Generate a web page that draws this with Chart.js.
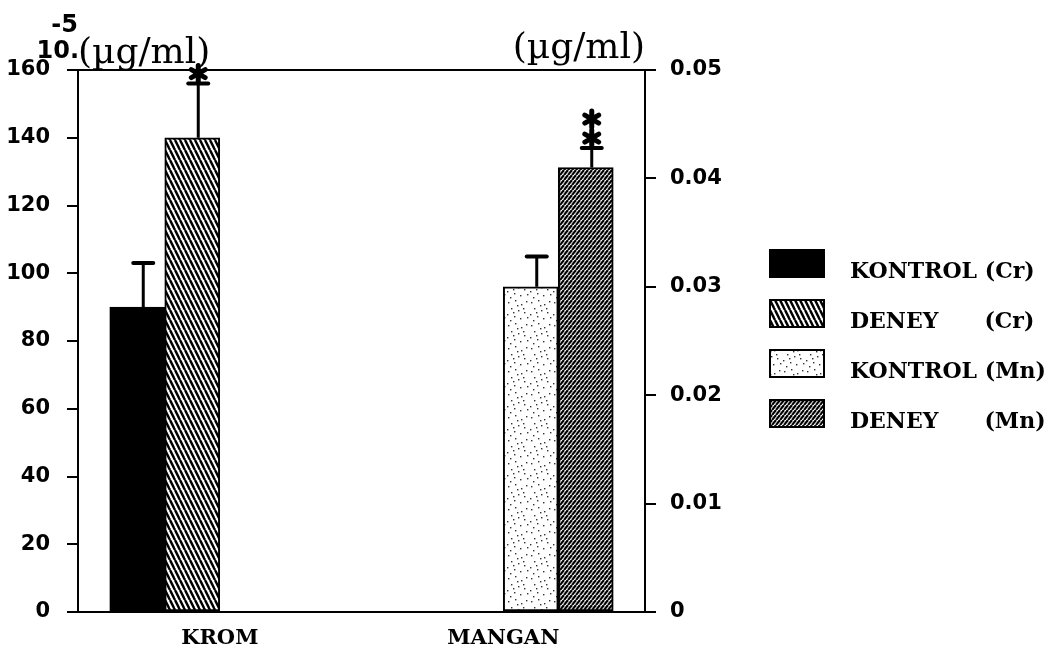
<!DOCTYPE html>
<html>
<head>
<meta charset="utf-8">
<script src="https://cdn.jsdelivr.net/npm/chart.js@4.4.0/dist/chart.umd.min.js"></script>
<style>
  html, body { margin: 0; padding: 0; background: #fff; }
  canvas { display: block; }
</style>
</head>
<body>
<canvas id="chart" width="1051" height="654"></canvas>
<script>
// ── DATA ───────────────────────────────────────────────────────
const CATEGORIES = ['KROM', 'MANGAN'];
const SERIES_LABELS = ['KONTROL (Cr)', 'DENEY      (Cr)', 'KONTROL (Mn)', 'DENEY      (Mn)'];

// Cr on the left axis (x10^-5 µg/ml), Mn on the right axis (µg/ml)
const KONTROL_CR = [90, null];
const DENEY_CR   = [140, null];
const KONTROL_MN = [null, 0.030];
const DENEY_MN   = [null, 0.041];

const ERR_KONTROL_CR = [13, null];
const ERR_DENEY_CR   = [16, null];
const ERR_KONTROL_MN = [null, 0.0028];
const ERR_DENEY_MN   = [null, 0.0018];

// number of significance stars above each series
const STARS = [0, 1, 0, 2];

const LEFT_TICKS  = [0, 20, 40, 60, 80, 100, 120, 140, 160];
const RIGHT_TICKS = [0, 0.01, 0.02, 0.03, 0.04, 0.05];

// ── FILL PATTERNS ──────────────────────────────────────────────
function makeTile(w, h, draw) {
  const c = document.createElement('canvas');
  c.width = w; c.height = h;
  const t = c.getContext('2d');
  t.fillStyle = '#fff';
  t.fillRect(0, 0, w, h);
  draw(t, w, h);
  return t.createPattern(c, 'repeat');
}

// "\" stripes
const backHatch = makeTile(5, 10, (t, w, h) => {
  t.strokeStyle = '#000'; t.lineWidth = 2.4;
  for (let k = -1; k <= 1; k++) {
    t.beginPath(); t.moveTo(k * w, 0); t.lineTo(k * w + w, h); t.stroke();
  }
});

// dense "/" stripes
const fwdHatch = makeTile(4, 5, (t, w, h) => {
  t.strokeStyle = '#000'; t.lineWidth = 2.2;
  for (let k = -1; k <= 1; k++) {
    t.beginPath(); t.moveTo(k * w, h); t.lineTo(k * w + w, 0); t.stroke();
  }
});

// light stipple
const STIPPLE_DOTS = [[2,3],[9,1],[15,5],[20,2],[5,9],[12,11],[18,13],[1,15],[8,17],[14,19],[21,18],[4,21],[11,6],[17,9],[7,13]];
const stipple = makeTile(23, 23, t => {
  t.fillStyle = '#333';
  STIPPLE_DOTS.forEach(([x, y]) => t.fillRect(x, y, 1.4, 1.4));
});

const FILLS = ['#000', backHatch, stipple, fwdHatch];

// ── PLUGINS ────────────────────────────────────────────────────
const ERR_SHIFT = 6;

function drawStar(ctx, x, y) {
  ctx.save();
  ctx.lineWidth = 5;
  ctx.lineCap = 'round';
  ctx.beginPath();
  [90, 30, 150].forEach(a => {
    const r = a * Math.PI / 180, dx = Math.cos(r) * 8, dy = Math.sin(r) * 8;
    ctx.moveTo(x - dx, y - dy); ctx.lineTo(x + dx, y + dy);
  });
  ctx.stroke();
  ctx.restore();
}

const errorBars = {
  id: 'errorBars',
  afterDatasetsDraw(chart) {
    const ctx = chart.ctx;
    chart.data.datasets.forEach((ds, i) => {
      const meta = chart.getDatasetMeta(i);
      const scale = chart.scales[ds.yAxisID];
      meta.data.forEach((bar, j) => {
        const v = ds.data[j];
        if (v == null) return;
        const x = bar.x + ERR_SHIFT;
        const top = scale.getPixelForValue(v + ds.err[j]);
        ctx.save();
        ctx.strokeStyle = '#000';
        ctx.lineWidth = 3;
        ctx.beginPath(); ctx.moveTo(x, bar.y); ctx.lineTo(x, top); ctx.stroke();
        ctx.lineWidth = 4; ctx.lineCap = 'round';
        ctx.beginPath(); ctx.moveTo(x - 10, top); ctx.lineTo(x + 10, top); ctx.stroke();
        for (let k = 0; k < ds.stars; k++) drawStar(ctx, x, top - 10 - k * 19);
        ctx.restore();
      });
    });
  }
};

const frameAndTitles = {
  id: 'frameAndTitles',
  afterDraw(chart) {
    const { ctx, chartArea: a } = chart;
    ctx.save();
    ctx.strokeStyle = '#000'; ctx.lineWidth = 2;
    ctx.beginPath(); ctx.moveTo(a.left, a.top); ctx.lineTo(a.right, a.top); ctx.stroke();

    ctx.fillStyle = '#000';
    ctx.textBaseline = 'alphabetic';
    ctx.font = '36px "DejaVu Serif"';
    ctx.textAlign = 'left';
    ctx.fillText('(µg/ml)', a.left, a.top - 7);
    ctx.textAlign = 'right';
    ctx.fillText('(µg/ml)', a.right, a.top - 12);

    ctx.font = 'bold 24px "DejaVu Sans"';
    ctx.fillText('10.', a.left + 1, a.top - 12);
    ctx.fillText('-5', a.left, a.top - 38);

    // legend
    ctx.font = 'bold 22px "DejaVu Serif"';
    ctx.textAlign = 'left';
    chart.data.datasets.forEach((ds, i) => {
      const y = 250 + i * 50;
      ctx.fillStyle = ds.backgroundColor;
      ctx.fillRect(770, y, 54, 27);
      ctx.lineWidth = 2;
      ctx.strokeRect(770, y, 54, 27);
      ctx.fillStyle = '#000';
      ctx.fillText(ds.label, 850, y + 28);
    });
    ctx.restore();
  }
};

// ── CHART ──────────────────────────────────────────────────────
const series = [KONTROL_CR, DENEY_CR, KONTROL_MN, DENEY_MN];
const errors = [ERR_KONTROL_CR, ERR_DENEY_CR, ERR_KONTROL_MN, ERR_DENEY_MN];
const axisOf = ['y', 'y', 'y2', 'y2'];

const tickFont = { family: '"DejaVu Sans"', size: 21, weight: 'bold' };

new Chart(document.getElementById('chart'), {
  type: 'bar',
  data: {
    labels: CATEGORIES,
    datasets: series.map((d, i) => ({
      label: SERIES_LABELS[i],
      data: d,
      err: errors[i],
      stars: STARS[i],
      yAxisID: axisOf[i],
      backgroundColor: FILLS[i],
      borderColor: '#000',
      borderWidth: 2,
      borderSkipped: false,
      barThickness: 55
    }))
  },
  options: {
    responsive: false,
    animation: false,
    devicePixelRatio: 1,
    layout: { padding: { top: 70, left: 0, right: 0, bottom: 0 } },
    plugins: { legend: { display: false }, tooltip: { enabled: false } },
    scales: {
      x: {
        offset: true,
        grid: { display: false, drawTicks: false },
        border: { display: true, color: '#000', width: 2 },
        ticks: { color: '#000', padding: 14, font: { family: '"DejaVu Serif"', size: 21, weight: 'bold' } },
        afterFit: s => { s.height = 42; }
      },
      y: {
        position: 'left',
        min: 0, max: 160,
        afterBuildTicks: s => { s.ticks = LEFT_TICKS.map(v => ({ value: v })); },
        grid: { drawOnChartArea: false, color: '#000', lineWidth: 2, tickLength: 11 },
        border: { color: '#000', width: 2 },
        ticks: { color: '#000', padding: 17, font: tickFont, callback: v => String(v) },
        afterFit: s => { s.width = 78; }
      },
      y2: {
        position: 'right',
        min: 0, max: 0.05,
        afterBuildTicks: s => { s.ticks = RIGHT_TICKS.map(v => ({ value: v })); },
        grid: { drawOnChartArea: false, color: '#000', lineWidth: 2, tickLength: 11 },
        border: { color: '#000', width: 2 },
        ticks: { color: '#000', padding: 14, font: tickFont, callback: v => v === 0 ? '0' : v.toFixed(2) },
        afterFit: s => { s.width = 406; }
      }
    }
  },
  plugins: [errorBars, frameAndTitles]
});
</script>
</body>
</html>
